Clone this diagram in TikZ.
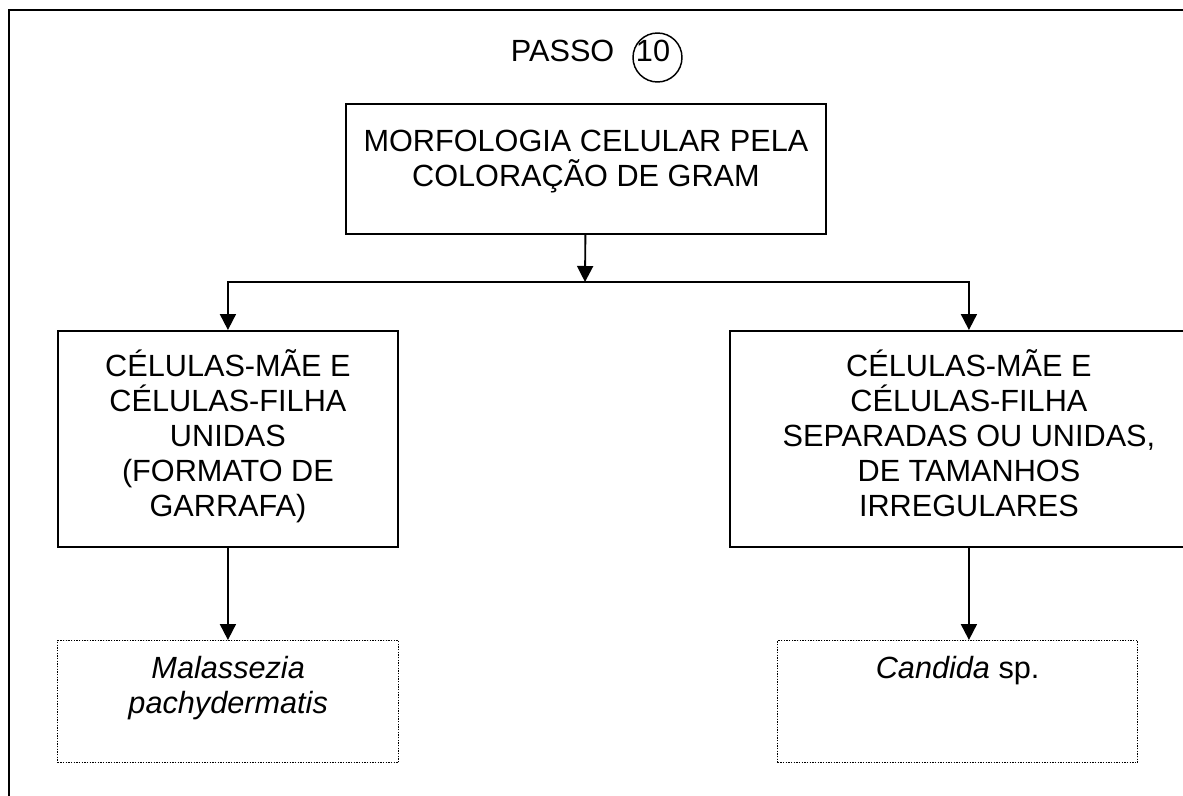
\documentclass[tikz,border=0pt]{standalone}
\usepackage{fontspec}
\setmainfont{Liberation Sans}
\usetikzlibrary{arrows.meta}

\begin{document}
\begin{tikzpicture}[x=0.75pt, y=-0.75pt, line width=1.4pt,
    >={Triangle[width=12pt,length=12pt]},
    font=\fontsize{23}{26.25}\selectfont,
    box/.style={draw, inner sep=0pt, anchor=north west},
    dotbox/.style={draw, densely dotted, line width=1pt, inner sep=0pt, anchor=north west}]

        \useasboundingbox (0,0) rectangle (1183,796);
        \clip (0,0) rectangle (1183,796);

        % Rahmen
        \draw[line width=1.9pt] (9,800) -- (9,10) -- (1190,10);

        % Titel
        \node[anchor=base west, inner sep=0pt] (passo) at (510,61) {PASSO};
        \node[circle, draw, line width=1.1pt, minimum size=36.75pt, inner sep=0pt] (ring) at (657.5,57.5) {};
        \node (num) at (653,51) {10};

        % Obere Box
        \node[box] (gram) at (345,103) {\parbox[t][97.5pt][t]{360pt}{\centering\rule{0pt}{36pt}MORFOLOGIA CELULAR PELA\\COLORAÇÃO DE GRAM}};

        % Mittlere Zeile
        \node[box] (bottle) at (57,330) {\parbox[t][162pt][t]{255pt}{\centering\rule{0pt}{34.5pt}CÉLULAS-MÃE E\\CÉLULAS-FILHA\\UNIDAS\\(FORMATO DE\\GARRAFA)}};
        \node[box] (irreg) at (729,330) {\parbox[t][162pt][t]{358.5pt}{\centering\rule{0pt}{34.5pt}CÉLULAS-MÃE E\\CÉLULAS-FILHA\\SEPARADAS OU UNIDAS,\\DE TAMANHOS\\IRREGULARES}};

        % Untere Zeile
        \node[dotbox] (mala) at (57,640) {\parbox[t][91.5pt][t]{255.75pt}{\centering\rule{0pt}{28.5pt}\textit{Malassezia}\\\textit{pachydermatis}}};
        \node[dotbox] (cand) at (777,640) {\parbox[t][91.5pt][t]{270pt}{\centering\rule{0pt}{28.5pt}\textit{Candida} sp.}};

        % Verzweigung
        \coordinate (split) at (585,282);

        % Pfeile
        \draw[->] (gram) -- (split);
        \draw[->] (split) -| (bottle.north);
        \draw[->] (split) -| (irreg.north);
        \draw[->] (bottle.south) -- (bottle.south |- mala.north);
        \draw[->] (irreg.south) -- (irreg.south |- cand.north);

    \end{tikzpicture}
\end{document}
